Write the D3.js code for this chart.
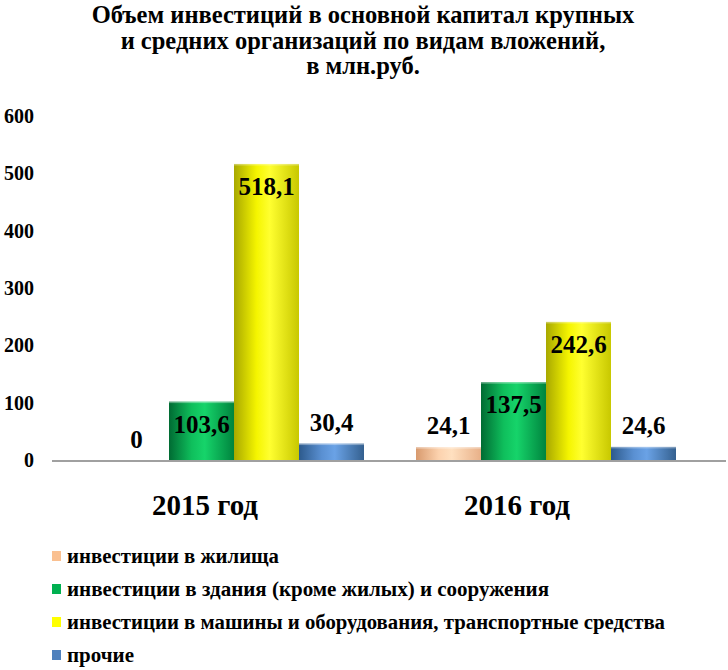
<!DOCTYPE html>
<html><head><meta charset="utf-8">
<script src="https://cdn.jsdelivr.net/npm/d3@7/dist/d3.min.js"></script>
<style>body{margin:0;background:#fff}svg{display:block}</style>
</head><body><svg id="c" width="728" height="670"></svg>
<script>
const titleLines = ["Объем инвестиций в основной капитал крупных", "и средних организаций по видам вложений,", "в млн.руб."];
const categories = ["2015 год", "2016 год"];
const seriesNames = ["инвестиции в жилища", "инвестиции в здания (кроме жилых) и сооружения", "инвестиции в машины и оборудования, транспортные средства", "прочие"];
const housing = [0, 24.1];
const buildings = [103.6, 137.5];
const machinery = [518.1, 242.6];
const other = [30.4, 24.6];
const valueLabels = [["0", "24,1"], ["103,6", "137,5"], ["518,1", "242,6"], ["30,4", "24,6"]];
const yTicks = [0, 100, 200, 300, 400, 500, 600];

const series = [housing, buildings, machinery, other];
const legendColors = ["#fac090", "#00b050", "#ffff00", "#4f81bd"];
const legendWidths = [212, 482, 598, 67];
const grads = [
  ["#d89a6e", "#fcd2ae", "#ffe0c0", "#e8b088"],
  ["#006b33", "#0fbf5c", "#16d46a", "#00843e"],
  ["#a8a800", "#f5f500", "#ffff30", "#c8c800"],
  ["#2d5a8c", "#5a90d2", "#6aa2e6", "#34608f"]
];
const FONT = "'Liberation Serif', 'Times New Roman', serif";

const svg = d3.select("#c");
const defs = svg.append("defs");
grads.forEach((g, i) => {
  const lg = defs.append("linearGradient").attr("id", "g" + i).attr("x1", "0").attr("x2", "1").attr("y1", "0").attr("y2", "0");
  [[0, g[0]], [0.35, g[1]], [0.55, g[2]], [1, g[3]]].forEach(s => lg.append("stop").attr("offset", s[0]).attr("stop-color", s[1]));
});

const y = d3.scaleLinear().domain([0, 600]).range([461, 117]);
const x0 = d3.scaleBand().domain(categories).range([52, 676]).paddingInner(0).paddingOuter(0);
const bw = x0.bandwidth();
const x1 = d3.scaleBand().domain(d3.range(4)).range([bw / 6, bw]).padding(0);

function txt(sel) { return sel.style("font-family", FONT).attr("font-weight", "bold").attr("fill", "#000"); }

// title
txt(svg.append("g").selectAll("text").data(titleLines).join("text")
  .attr("x", 363).attr("y", (d, i) => 23 + i * 25.5)
  .attr("text-anchor", "middle").attr("font-size", 24.5).text(d => d));

// y axis labels
txt(svg.append("g").selectAll("text").data(yTicks).join("text")
  .attr("x", 34).attr("y", d => y(d) + 6)
  .attr("text-anchor", "end").attr("font-size", 20).text(d => d));

// bars
const g = svg.append("g");
categories.forEach((c, ci) => {
  series.forEach((s, si) => {
    const v = s[ci];
    const xx = x0(c) + x1(si);
    const w = x1.bandwidth();
    if (v > 0) {
      g.append("rect").attr("x", xx).attr("y", y(v)).attr("width", w).attr("height", y(0) - y(v)).attr("fill", `url(#g${si})`);
      g.append("rect").attr("x", xx).attr("y", y(v)).attr("width", w).attr("height", 1.5).attr("fill", "#ffffff").attr("opacity", 0.35);
    }
  });
});

// baseline
svg.append("line").attr("x1", 52).attr("x2", 726).attr("y1", y(0)).attr("y2", y(0)).attr("stroke", "#a0a0a0").attr("stroke-width", 2);

// value labels
categories.forEach((c, ci) => {
  series.forEach((s, si) => {
    const v = s[ci];
    const xx = x0(c) + x1(si) + x1.bandwidth() / 2;
    const inside = v > 100;
    txt(svg.append("text").attr("x", xx).attr("y", inside ? y(v) + 31 : y(v) - 13)
      .attr("text-anchor", "middle").attr("font-size", 25).text(valueLabels[si][ci]));
  });
});

// category labels
txt(svg.append("g").selectAll("text").data(categories).join("text")
  .attr("x", d => x0(d) + bw / 2 - 3).attr("y", 515)
  .attr("text-anchor", "middle").attr("font-size", 29).text(d => d));

// legend
const lg = svg.append("g");
seriesNames.forEach((n, i) => {
  const yy = 563 + i * 33;
  lg.append("rect").attr("x", 52).attr("y", yy - 12).attr("width", 9).attr("height", 10).attr("fill", legendColors[i]);
  txt(lg.append("text").attr("x", 67).attr("y", yy).attr("font-size", 20.5)
    .attr("textLength", legendWidths[i]).attr("lengthAdjust", "spacingAndGlyphs").text(n));
});
</script></body></html>
